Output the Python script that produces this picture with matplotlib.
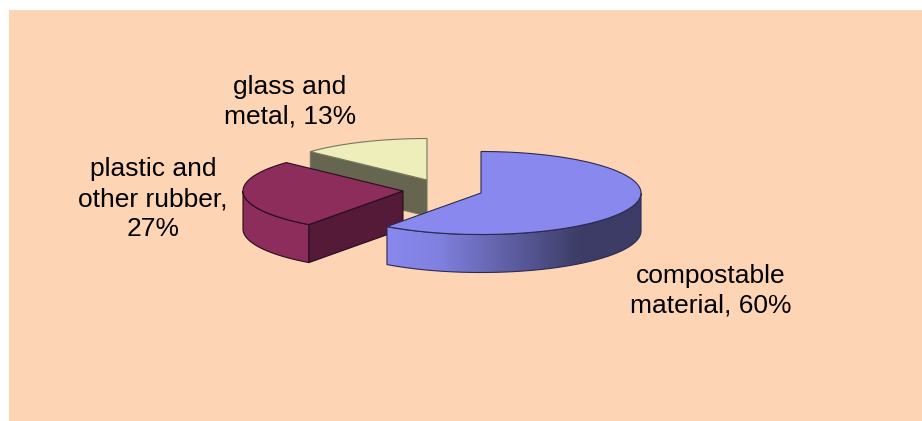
import numpy as np
import matplotlib
matplotlib.use("Agg")
import matplotlib.pyplot as plt
from matplotlib.patches import Polygon, Rectangle

plt.rcParams['font.family'] = ['Liberation Sans', 'DejaVu Sans']

categories = ["compostable\nmaterial, 60%", "plastic and\nother rubber,\n27%", "glass and\nmetal, 13%"]
values = [60, 27, 13]
top_colors = ["#8888EE", "#8C2D5C", "#EEEEBB"]
side_colors = ["#8888EE", "#8C2D5C", "#EEEEBB"]
cut_colors = [None, "#541A38", "#666650"]
edge_colors = ["#2A2A50", "#2A0C1E", "#77775F"]
apexes = [(481, 193), (403, 191), (427, 180)]
label_pos = [(711, 291), (153, 199), (290, 102)]

A, B, DEPTH = 160, 41.5, 38

fig = plt.figure(figsize=(9.22, 4.21), dpi=100, facecolor="white")
ax = fig.add_axes([0, 0, 1, 1])
ax.set_xlim(0, 922)
ax.set_ylim(421, 0)
ax.axis("off")
ax.add_patch(Rectangle((9, 10), 913, 411, fc="#FDD5B5", ec="none", zorder=0))


def rim(apex, t0, t1, n=120, dy=0):
    t = np.radians(np.linspace(t0, t1, n))
    return np.column_stack([apex[0] + A * np.sin(t), apex[1] + dy - B * np.cos(t)])


fractions = np.cumsum([0] + values) / sum(values) * 360
LW = 0.8

# glass and metal (back), then plastic, then compostable (front)
for i in [2, 1, 0]:
    t0, t1 = fractions[i], fractions[i + 1]
    apex = apexes[i]
    ec = edge_colors[i]
    start = rim(apex, t0, t0, 1)[0]

    if i == 2:
        # left cut face only
        ax.add_patch(Polygon([start, apex, (apex[0], apex[1] + DEPTH - 2), (start[0], start[1] + DEPTH - 2)],
                             fc=cut_colors[i], ec=ec, lw=LW, zorder=2))
    if i == 1:
        outer = rim(apex, t0, 270 + 0)
        outer2 = rim(apex, t0, 270, dy=DEPTH)
        ax.add_patch(Polygon(np.vstack([outer, outer2[::-1]]), fc=side_colors[i], ec=ec, lw=LW, zorder=3))
        ax.add_patch(Polygon([start, apex, (apex[0], apex[1] + DEPTH), (start[0], start[1] + DEPTH)],
                             fc=cut_colors[i], ec=ec, lw=LW, zorder=3))
    if i == 0:
        outer = rim(apex, 90, t1)
        outer2 = rim(apex, 90, t1, dy=DEPTH)
        poly = Polygon(np.vstack([outer, outer2[::-1]]), fc="none", ec=ec, lw=LW, zorder=5)
        ax.add_patch(poly)
        grad = np.interp(np.linspace(0, 1, 300), [0, 0.2, 0.76, 1], [0, 0.1, 1, 1])
        c0 = np.array([0x88, 0x88, 0xEE]) / 255
        c1 = np.array([0x3C, 0x3C, 0x66]) / 255
        img = (c0[None, :] * (1 - grad[:, None]) + c1[None, :] * grad[:, None])[None, :, :]
        im = ax.imshow(img, extent=(outer[:, 0].min(), outer[:, 0].max(), 280, 180),
                       aspect="auto", zorder=4, interpolation="bilinear")
        im.set_clip_path(Polygon(np.vstack([outer, outer2[::-1]]), transform=ax.transData))
    top = np.vstack([[apex], rim(apex, t0, t1)])
    ax.add_patch(Polygon(top, closed=True, fc=top_colors[i], ec=ec, lw=LW, zorder=6 if i != 2 else 2.5))

ax.set_xlim(0, 922)
ax.set_ylim(421, 0)

for lab, (x, y) in zip(categories, label_pos):
    ax.text(x, y, lab, ha="center", va="center", fontsize=19, color="black",
            linespacing=1.3, zorder=10)

fig.savefig("out.png", dpi=100, facecolor=fig.get_facecolor())
